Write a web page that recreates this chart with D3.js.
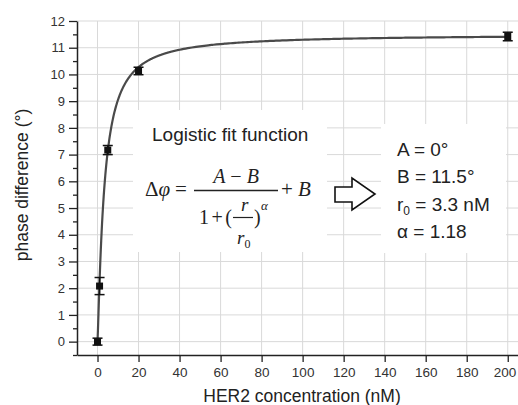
<!DOCTYPE html>
<html>
<head>
<meta charset="utf-8">
<script src="https://cdn.jsdelivr.net/npm/d3@7"></script>
<style>
	body { margin: 0; background: #fff; }
	svg { display: block; font-family: "Liberation Sans", Arial, sans-serif; }
</style>
</head>
<body>
<div id="chart"></div>
<script>
(function () {

	// measured points (HER2 concentration in nM, phase difference in deg)
	var concentrations = [0, 1, 5, 20, 200];
	var phaseValues = [0.0, 2.08, 7.17, 10.13, 11.42];
	var phaseErrors = [0.13, 0.32, 0.17, 0.14, 0.16];

	// logistic fit parameters [A, B, r0, alpha]
	var fitParams = [0, 11.5, 3.3, 1.18];
	var fitLabels = ["A = 0°", "B = 11.5°", "r0 = 3.3 nM", "α = 1.18"];

	var xTicks = [0, 20, 40, 60, 80, 100, 120, 140, 160, 180, 200];
	var yTicks = [0, 1, 2, 3, 4, 5, 6, 7, 8, 9, 10, 11, 12];
	var yMinorTicks = [-0.5, 0.5, 1.5, 2.5, 3.5, 4.5, 5.5, 6.5, 7.5, 8.5, 9.5, 10.5, 11.5];

	var W = 518, H = 405;
	var x = d3.scaleLinear().domain([-10, 205]).range([77, 518]);
	var y = d3.scaleLinear().domain([-0.5, 12]).range([355, 21]);

	var svg = d3.select("#chart").append("svg")
		.attr("width", W)
		.attr("height", H);

	// grid
	var grid = svg.append("g").attr("stroke", "#d9d9d9").attr("stroke-width", 1);
	grid.selectAll(".gx").data(xTicks).enter().append("line")
		.attr("x1", function(d) { return x(d); })
		.attr("x2", function(d) { return x(d); })
		.attr("y1", y(12)).attr("y2", y(-0.5));
	grid.selectAll(".gy").data(yTicks).enter().append("line")
		.attr("x1", x(-10)).attr("x2", W)
		.attr("y1", function(d) { return y(d); })
		.attr("y2", function(d) { return y(d); });

	// white boxes behind annotations
	svg.append("rect").attr("x", 133).attr("y", 110).attr("width", 194).attr("height", 142).attr("fill", "#fff");
	svg.append("rect").attr("x", 381).attr("y", 124).attr("width", 125).attr("height", 129).attr("fill", "#fff");

	// axes
	var yAxis = svg.append("g")
		.attr("transform", "translate(" + x(-10) + ",0)")
		.call(d3.axisLeft(y).tickValues(yTicks).tickSize(8).tickSizeOuter(0).tickPadding(4));
	svg.append("g")
		.attr("transform", "translate(" + x(-10) + ",0)")
		.call(d3.axisLeft(y).tickValues(yMinorTicks).tickSize(4).tickSizeOuter(0).tickFormat(""))
		.select(".domain").remove();
	var xAxis = svg.append("g")
		.attr("transform", "translate(0," + y(-0.5) + ")")
		.call(d3.axisBottom(x).tickValues(xTicks).tickSize(7).tickSizeOuter(0).tickPadding(5));

	svg.selectAll(".domain").attr("stroke", "#222").attr("stroke-width", 1.5);
	svg.selectAll(".tick line").attr("stroke", "#222").attr("stroke-width", 1.3);
	yAxis.selectAll("text").attr("font-size", 13).attr("fill", "#333")
		.attr("font-family", "Liberation Sans, Arial, sans-serif");
	xAxis.selectAll("text").attr("font-size", 13.5).attr("fill", "#333")
		.attr("font-family", "Liberation Sans, Arial, sans-serif");
	// keep the last label inside the picture edge
	xAxis.selectAll(".tick text").filter(function(d) { return d === 200; })
		.attr("text-anchor", "end").attr("dx", 8);

	// axis titles
	svg.append("text")
		.attr("x", 302).attr("y", 402)
		.attr("text-anchor", "middle")
		.attr("font-size", 17.5).attr("fill", "#222")
		.text("HER2 concentration (nM)");
	svg.append("text")
		.attr("transform", "translate(28,185) rotate(-90)")
		.attr("text-anchor", "middle")
		.attr("font-size", 17.5).attr("fill", "#222")
		.text("phase difference (°)");

	// fit curve
	var A = fitParams[0], B = fitParams[1], r0 = fitParams[2], alpha = fitParams[3];
	var fit = function(r) { return (A - B) / (1 + Math.pow(r / r0, alpha)) + B; };
	var samples = d3.range(0, 40, 0.2).concat(d3.range(40, 200.5, 2));
	var line = d3.line()
		.x(function(d) { return x(d); })
		.y(function(d) { return y(fit(d)); })
		.curve(d3.curveMonotoneX);
	svg.append("path")
		.datum(samples)
		.attr("d", line)
		.attr("fill", "none")
		.attr("stroke", "#4a4a4a")
		.attr("stroke-width", 2.2);

	// data points with error bars
	var pts = concentrations.map(function(c, i) {
		return { c: c, v: phaseValues[i], e: phaseErrors[i] };
	});
	var g = svg.append("g").attr("stroke", "#111").attr("stroke-width", 1.5);
	g.selectAll(".eb").data(pts).enter().append("line")
		.attr("x1", function(d) { return x(d.c); })
		.attr("x2", function(d) { return x(d.c); })
		.attr("y1", function(d) { return y(d.v - d.e); })
		.attr("y2", function(d) { return y(d.v + d.e); });
	g.selectAll(".capHi").data(pts).enter().append("line")
		.attr("x1", function(d) { return x(d.c) - 5; })
		.attr("x2", function(d) { return x(d.c) + 5; })
		.attr("y1", function(d) { return y(d.v + d.e); })
		.attr("y2", function(d) { return y(d.v + d.e); });
	g.selectAll(".capLo").data(pts).enter().append("line")
		.attr("x1", function(d) { return x(d.c) - 5; })
		.attr("x2", function(d) { return x(d.c) + 5; })
		.attr("y1", function(d) { return y(d.v - d.e); })
		.attr("y2", function(d) { return y(d.v - d.e); });
	svg.selectAll(".pt").data(pts).enter().append("rect")
		.attr("x", function(d) { return x(d.c) - 3.5; })
		.attr("y", function(d) { return y(d.v) - 3.5; })
		.attr("width", 7).attr("height", 7)
		.attr("fill", "#111");

	// annotation: logistic fit formula
	svg.append("text")
		.attr("x", 152).attr("y", 141)
		.attr("font-size", 19).attr("fill", "#222")
		.text("Logistic fit function");

	var serif = "Liberation Serif, Times New Roman, serif";
	var f = svg.append("g").attr("font-family", serif).attr("fill", "#222");
	var t1 = f.append("text").attr("x", 145).attr("y", 196).attr("font-size", 21);
	t1.append("tspan").text("Δ");
	t1.append("tspan").attr("font-style", "italic").text("φ");
	f.append("text").attr("x", 175).attr("y", 196).attr("font-size", 21).text("=");
	f.append("line").attr("x1", 194).attr("x2", 278).attr("y1", 190.5).attr("y2", 190.5)
		.attr("stroke", "#222").attr("stroke-width", 1.4);
	var num = f.append("text").attr("x", 236).attr("y", 183).attr("font-size", 20).attr("text-anchor", "middle");
	num.append("tspan").attr("font-style", "italic").text("A");
	num.append("tspan").text(" − ");
	num.append("tspan").attr("font-style", "italic").text("B");
	f.append("text").attr("x", 199).attr("y", 224).attr("font-size", 20)
		.attr("letter-spacing", 2.5).text("1+(");
	f.append("text").attr("x", 241).attr("y", 211).attr("font-size", 19).attr("font-style", "italic").text("r");
	f.append("line").attr("x1", 233).attr("x2", 253).attr("y1", 217.5).attr("y2", 217.5)
		.attr("stroke", "#222").attr("stroke-width", 1.2);
	var rr = f.append("text").attr("x", 237).attr("y", 244).attr("font-size", 19);
	rr.append("tspan").attr("font-style", "italic").text("r");
	rr.append("tspan").attr("font-size", 12).attr("dy", 4).text("0");
	f.append("text").attr("x", 254).attr("y", 224).attr("font-size", 20).text(")");
	f.append("text").attr("x", 261).attr("y", 210).attr("font-size", 13).attr("font-style", "italic").text("α");
	var pb = f.append("text").attr("x", 281).attr("y", 196).attr("font-size", 21);
	pb.append("tspan").text("+ ");
	pb.append("tspan").attr("font-style", "italic").text("B");

	// hollow arrow
	svg.append("path")
		.attr("d", "M335,187 L352,187 L352,178 L375,194 L352,210 L352,202 L335,202 Z")
		.attr("fill", "#fff").attr("stroke", "#111").attr("stroke-width", 1.6);

	// fitted parameter values
	var vals = svg.append("g").attr("font-size", 19).attr("fill", "#222");
	fitLabels.forEach(function(lbl, i) {
		var t = vals.append("text").attr("x", 397).attr("y", 156 + i * 27.3);
		if (lbl.indexOf("r0") === 0) {
			t.append("tspan").text("r");
			t.append("tspan").attr("font-size", 12).attr("dy", 4).text("0");
			t.append("tspan").attr("dy", -4).text(lbl.slice(2));
		} else {
			t.text(lbl);
		}
	});

})();
</script>
</body>
</html>
